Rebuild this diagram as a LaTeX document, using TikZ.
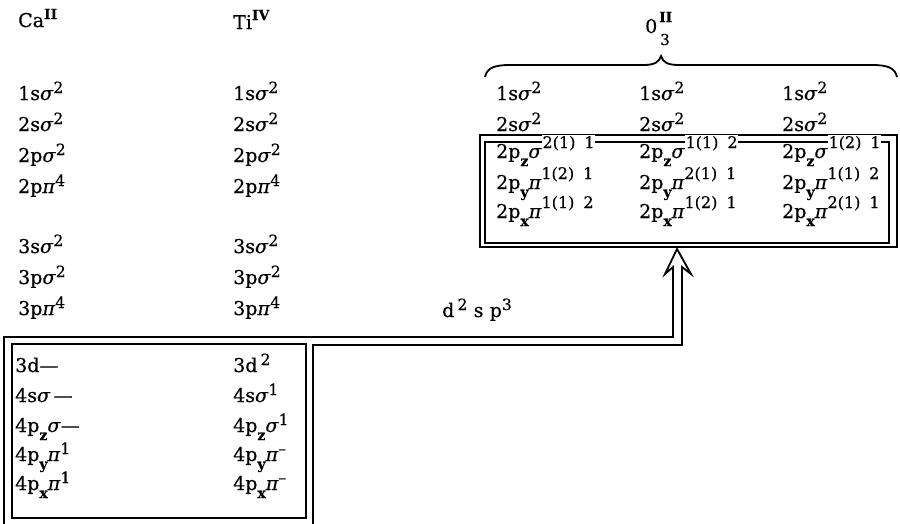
\documentclass[tikz,border=0pt]{standalone}
\usepackage{fontspec}
\setmainfont{DejaVu Serif}[FakeBold=0.4]
\newcommand\gs{\textit{σ}}
\newcommand\gp{\textit{π}}
\newcommand\orbsup[1]{\raisebox{7pt}{\fontsize{15.5}{16}\selectfont #1}}
\newcommand\orbsupo[1]{\raisebox{10pt}{\fontsize{16}{17}\selectfont #1}}
\newcommand\orbsupw[1]{\raisebox{10pt}{\setlength{\fboxsep}{0.8pt}\colorbox{white}{\fontsize{16}{17}\selectfont #1}}}
\newcommand\orbsub[1]{\raisebox{-8pt}{\fontsize{14}{15}\selectfont\bfseries #1}}
\newcommand\gap{\hspace{9pt}}
\begin{document}
\begin{tikzpicture}[x=1pt,y=-1pt,
  txt/.style={anchor=base west, inner sep=0pt, font=\fontsize{19}{21}\selectfont},
  rule/.style={line width=1.8pt, line join=miter}]
\useasboundingbox (0,0) rectangle (900,523);

% headers
\node[txt] (ca) at (18,27) {Ca\raisebox{8pt}{\fontsize{14}{15}\selectfont\bfseries II}};
\node[txt] (ti) at (233,29) {Ti\raisebox{9pt}{\fontsize{14}{15}\selectfont\bfseries IV}};
\node[txt] (o0) at (645,33) {0};
\node[txt,font=\fontsize{14}{15}\selectfont\bfseries] (oII) at (659,22) {II};
\node[txt,font=\fontsize{15}{16}\selectfont] (o3) at (660,45) {3};

% Ca and Ti core shells
\foreach \c/\x in {a/18,b/233}{
  \node[txt] (\c1) at (\x,100) {1s\gs\orbsup{2}};
  \node[txt] (\c2) at (\x,131) {2s\gs\orbsup{2}};
  \node[txt] (\c3) at (\x,162) {2p\gs\orbsup{2}};
  \node[txt] (\c4) at (\x,193) {2p\gp\orbsup{4}};
  \node[txt] (\c5) at (\x,253) {3s\gs\orbsup{2}};
  \node[txt] (\c6) at (\x,284) {3p\gs\orbsup{2}};
  \node[txt] (\c7) at (\x,315) {3p\gp\orbsup{4}};
}

% valence box contents
\node[txt] (ca8)  at (15,372) {3d—};
\node[txt] (ca9)  at (15,402) {4s\gs\,—};
\node[txt] (ca10) at (15,432) {4p\orbsub{z}\gs—};
\node[txt] (ca11) at (15,461) {4p\orbsub{y}\gp\orbsup{1}};
\node[txt] (ca12) at (15,490) {4p\orbsub{x}\gp\orbsup{1}};
\node[txt] (ti8)  at (233,372) {3d\,\orbsup{2}};
\node[txt] (ti9)  at (233,402) {4s\gs\orbsup{1}};
\node[txt] (ti10) at (233,432) {4p\orbsub{z}\gs\orbsup{1}};
\node[txt] (ti11) at (233,461) {4p\orbsub{y}\gp\orbsup{–}};
\node[txt] (ti12) at (233,490) {4p\orbsub{x}\gp\orbsup{–}};

% hybrid label
\node[txt] (hyb) at (442,317) {d\,\orbsup{2}\,\,s\,\,p\orbsup{3}};

% boxes
\draw[rule] (12,344) rectangle (306,518);
\draw[rule] (480,135) rectangle (897,247);
\draw[rule] (485,142) rectangle (889,243);

% double-lined pipe with open arrowhead
\coordinate (pa) at (4,530);
\coordinate (pb) at (313,530);
\draw[rule] (pa) -- (4,337) -- (673,337) -- (673,267) -- (665,274) -- (677,249)
  -- (691,274) -- (682,267) -- (682,345) -- (313,345) -- (pb);

% brace
\draw[line width=1.8pt] (485,77) .. controls (487,68) and (494,65) .. (510,65) -- (643,65)
  .. controls (655,65) and (659,62) .. (661,56) .. controls (663,62) and (667,65) .. (679,65)
  -- (872,65) .. controls (888,65) and (895,68) .. (897,77);

% O3 orbitals
\node[txt] (d1) at (496,100) {1s\gs\orbsup{2}};
\node[txt] (d2) at (639,100) {1s\gs\orbsup{2}};
\node[txt] (d3) at (782,100) {1s\gs\orbsup{2}};
\node[txt] (e1) at (496,131) {2s\gs\orbsup{2}};
\node[txt] (e2) at (639,131) {2s\gs\orbsup{2}};
\node[txt] (e3) at (782,131) {2s\gs\orbsup{2}};
\node[txt] (f1) at (496,158) {2p\orbsub{z}\gs\orbsupw{2(1)\gap 1}};
\node[txt] (f2) at (639,158) {2p\orbsub{z}\gs\orbsupw{1(1)\gap 2}};
\node[txt] (f3) at (782,158) {2p\orbsub{z}\gs\orbsupw{1(2)\gap 1}};
\node[txt] (g1) at (496,189) {2p\orbsub{y}\gp\orbsupo{1(2)\gap 1}};
\node[txt] (g2) at (639,189) {2p\orbsub{y}\gp\orbsupo{2(1)\gap 1}};
\node[txt] (g3) at (782,189) {2p\orbsub{y}\gp\orbsupo{1(1)\gap 2}};
\node[txt] (h1) at (496,218) {2p\orbsub{x}\gp\orbsupo{1(1)\gap 2}};
\node[txt] (h2) at (639,218) {2p\orbsub{x}\gp\orbsupo{1(2)\gap 1}};
\node[txt] (h3) at (782,218) {2p\orbsub{x}\gp\orbsupo{2(1)\gap 1}};
\end{tikzpicture}
\end{document}
